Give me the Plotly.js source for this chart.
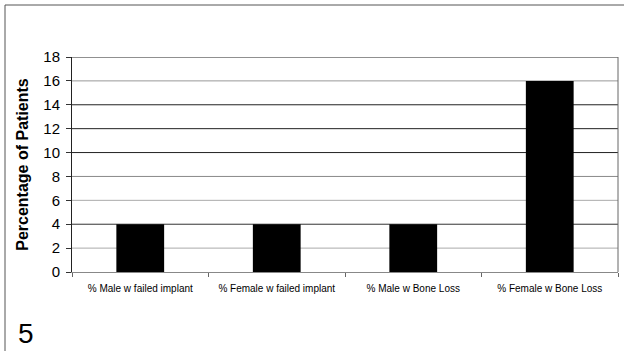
<!DOCTYPE html>
<html>
<head>
<meta charset="utf-8">
<script src="https://cdn.plot.ly/plotly-3.0.1.min.js"></script>
<style>
html,body{margin:0;padding:0;background:#fff;}
#chart{width:624px;height:351px;}
</style>
</head>
<body>
<div id="chart"></div>
<script>
// Data
const categories = ["% Male w failed implant", "% Female w failed implant", "% Male w Bone Loss", "% Female w Bone Loss"];
const percentages = [4, 4, 4, 16];
const yTicks = [0, 2, 4, 6, 8, 10, 12, 14, 16, 18];
const panelLabel = "5";

const FONT = "Arial, 'Liberation Sans', sans-serif";
const L = 72, R = 618, T = 57, B = 272, W = 624, H = 351;
const px2x = px => (px - L) / (R - L);
const px2y = py => (B - py) / (B - T);

// gridline shades (scanned look: some darker, some lighter)
const gridShade = {2:"#aaa",4:"#333",6:"#aaa",8:"#888",10:"#222",12:"#222",14:"#222",16:"#999",18:"#222"};

const shapes = [];
yTicks.filter(v => v > 0).forEach(v => {
  shapes.push({type:"line", xref:"paper", yref:"y", x0:0, x1:1, y0:v, y1:v,
    line:{color:gridShade[v] || "#555", width:1}, layer:"below"});
});
// right border of plot area
shapes.push({type:"line", xref:"paper", yref:"paper", x0:1, x1:1, y0:0, y1:1, line:{color:"#666", width:1}});
// outer figure border (left and top)
shapes.push({type:"line", xref:"paper", yref:"paper", x0:px2x(5), x1:px2x(5), y0:px2y(5), y1:px2y(360), line:{color:"#555", width:1}});
shapes.push({type:"line", xref:"paper", yref:"paper", x0:px2x(5), x1:px2x(630), y0:px2y(5), y1:px2y(5), line:{color:"#555", width:1}});

const trace = {
  type:"bar", x:categories, y:percentages,
  marker:{color:"#000", line:{width:0}},
  width:0.35, hoverinfo:"skip"
};

const layout = {
  width:W, height:H,
  margin:{l:L, r:W-R, t:T, b:H-B, pad:0},
  paper_bgcolor:"#fff", plot_bgcolor:"#fff",
  showlegend:false,
  font:{family:FONT, color:"#000"},
  xaxis:{
    type:"category", tickson:"boundaries", ticks:"outside", ticklen:4, tickcolor:"#666",
    showline:true, linecolor:"#888", linewidth:1, showgrid:false, zeroline:false,
    tickfont:{family:FONT, size:10, color:"#000"}, ticklabelstandoff:7,
    fixedrange:true
  },
  yaxis:{
    range:[0,18], tickvals:yTicks, ticks:"outside", ticklen:5, tickcolor:"#333",
    showline:true, linecolor:"#222", linewidth:1, showgrid:false, zeroline:false,
    tickfont:{family:FONT, size:15, color:"#000"}, ticklabelstandoff:3,
    title:{text:"<b>Percentage of Patients</b>", font:{family:FONT, size:16, color:"#000"}, standoff:10},
    fixedrange:true
  },
  shapes:shapes,
  annotations:[{
    text:panelLabel, xref:"paper", yref:"paper", x:px2x(16), y:px2y(333),
    xanchor:"left", yanchor:"middle", showarrow:false,
    font:{family:FONT, size:28, color:"#000"}
  }]
};

Plotly.newPlot("chart", [trace], layout, {staticPlot:true, displayModeBar:false});
</script>
</body>
</html>
